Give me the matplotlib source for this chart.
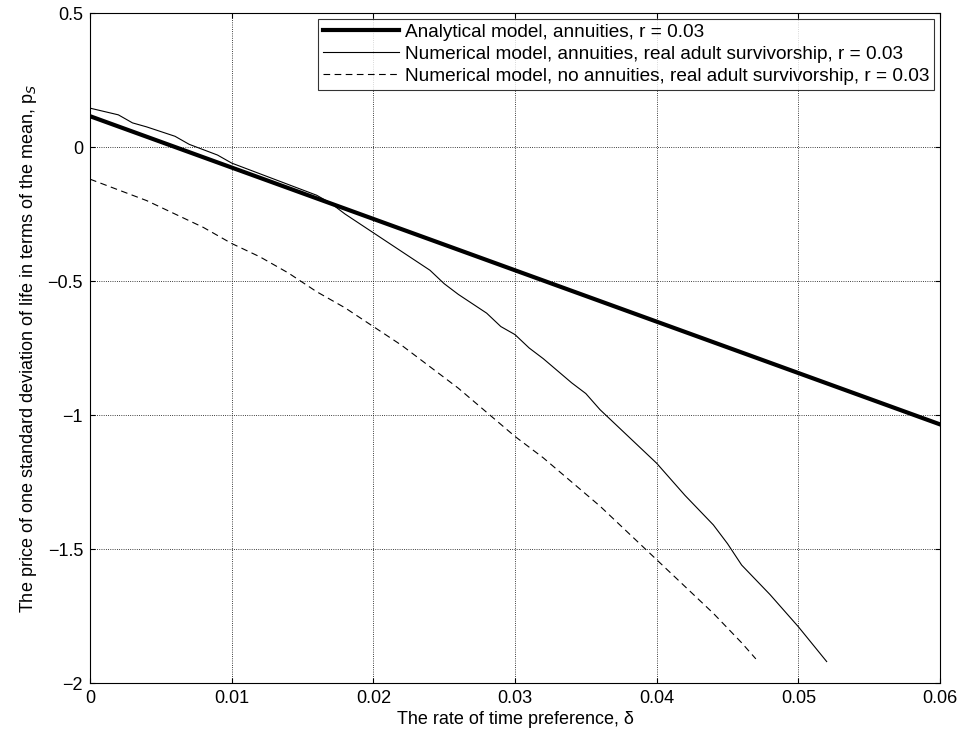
import matplotlib
matplotlib.use("Agg")
import matplotlib.pyplot as plt
import numpy as np
plt.rcParams['font.family'] = ['Liberation Sans', 'DejaVu Sans']

x_an = [0.0, 0.06]
y_an = [0.115, -1.035]

x_num = [0,0.002,0.003,0.004,0.006,0.007,0.008,0.009,0.010,0.011,0.012,0.014,0.016,0.017,0.018,0.020,0.022,0.024,0.025,0.026,0.028,0.029,0.030,0.031,0.032,0.034,0.035,0.036,0.038,0.040,0.042,0.044,0.045,0.046,0.048,0.050,0.052]
y_num = [0.145,0.12,0.09,0.075,0.04,0.01,-0.01,-0.03,-0.06,-0.08,-0.10,-0.14,-0.18,-0.21,-0.25,-0.32,-0.39,-0.46,-0.51,-0.55,-0.62,-0.67,-0.70,-0.75,-0.79,-0.88,-0.92,-0.98,-1.08,-1.18,-1.30,-1.41,-1.48,-1.56,-1.67,-1.79,-1.92]

x_no = [0,0.002,0.004,0.006,0.008,0.010,0.012,0.014,0.016,0.018,0.020,0.022,0.024,0.026,0.028,0.030,0.032,0.034,0.036,0.038,0.040,0.042,0.044,0.046,0.047]
y_no = [-0.12,-0.16,-0.20,-0.25,-0.30,-0.36,-0.41,-0.47,-0.54,-0.60,-0.67,-0.74,-0.82,-0.90,-0.99,-1.08,-1.16,-1.25,-1.34,-1.44,-1.54,-1.64,-1.74,-1.85,-1.91]

fig = plt.figure(figsize=(9.6, 7.34), dpi=100)
ax = fig.add_axes([90/960, 1-683/734, 850/960, 670/734])
ax.plot(x_an, y_an, 'k-', lw=3, label='Analytical model, annuities, r = 0.03')
ax.plot(x_num, y_num, 'k-', lw=0.8, label='Numerical model, annuities, real adult survivorship, r = 0.03')
ax.plot(x_no, y_no, 'k--', lw=0.8, dashes=(6, 4), label='Numerical model, no annuities, real adult survivorship, r = 0.03')
ax.set_xlim(0, 0.06)
ax.set_ylim(-2, 0.5)
ax.set_xticks([0,0.01,0.02,0.03,0.04,0.05,0.06])
ax.set_xticklabels(['0','0.01','0.02','0.03','0.04','0.05','0.06'])
ax.set_yticks([-2,-1.5,-1,-0.5,0,0.5])
ax.set_yticklabels(['\u22122','\u22121.5','\u22121','\u22120.5','0','0.5'])
ax.grid(True, color='k', linestyle=':', linewidth=0.6)
ax.tick_params(direction='in', labelsize=13, top=True, right=True, pad=5)
ax.set_xlabel('The rate of time preference, δ', fontsize=13, labelpad=3)
ax.set_ylabel('The price of one standard deviation of life in terms of the mean, p$_S$', fontsize=13, labelpad=6)
leg = ax.legend(loc='upper right', fontsize=13.7, fancybox=False, edgecolor='k', borderaxespad=0.3, handlelength=4.0, borderpad=0.25, labelspacing=0.25, handletextpad=0.3)
leg.get_frame().set_linewidth(0.8)
fig.savefig('out.png')
